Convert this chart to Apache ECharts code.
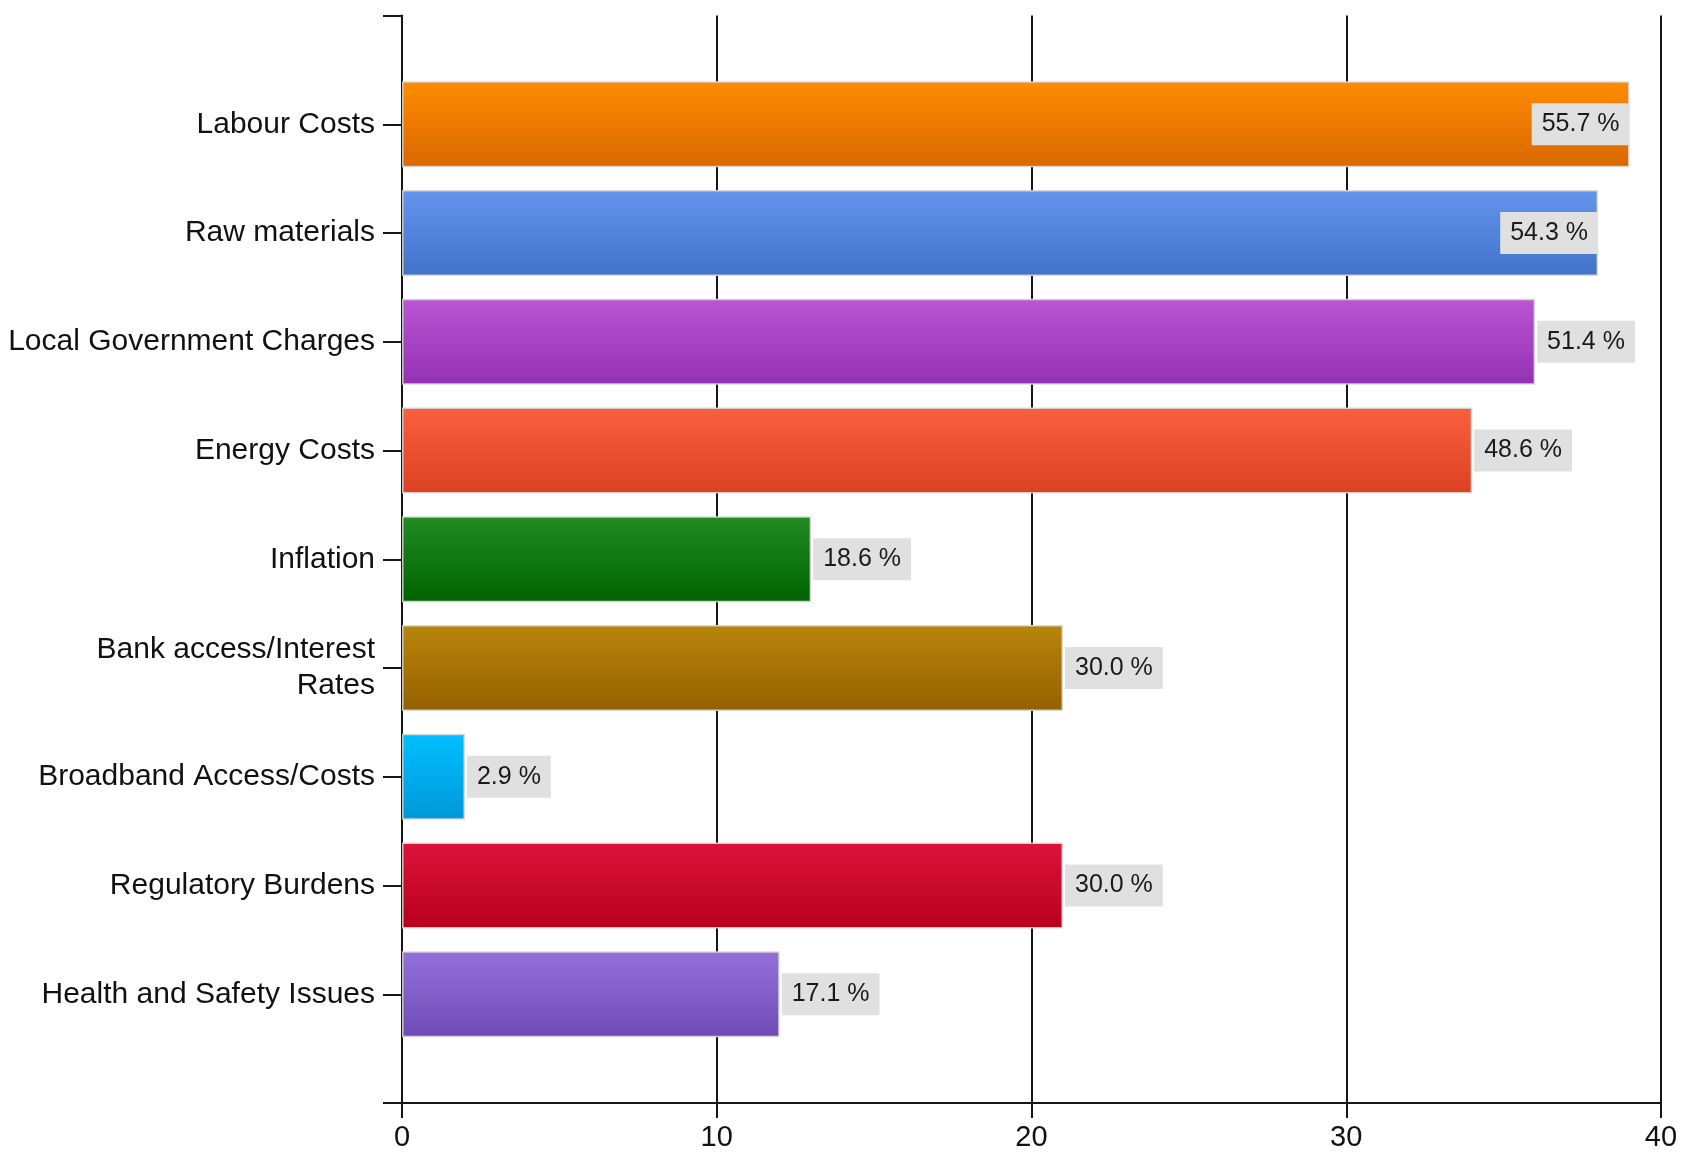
<!DOCTYPE html>
<html>
<head>
<meta charset="utf-8">
<style>
html,body{margin:0;padding:0;background:#fff;}
#chart{width:1681px;height:1152px;}
</style>
<script src="https://cdn.jsdelivr.net/npm/echarts@6/dist/echarts.min.js"></script>
</head>
<body>
<div id="chart"></div>
<script>
// Categories (top to bottom)
const categories = ['Labour Costs', 'Raw materials', 'Local Government Charges', 'Energy Costs', 'Inflation', 'Bank access/Interest\nRates', 'Broadband Access/Costs', 'Regulatory Burdens', 'Health and Safety Issues'];
// Bar lengths (counts on the 0-40 axis)
const counts = [39, 38, 36, 34, 13, 21, 2, 21, 12];
// Percentage labels shown at bar ends
const percentLabels = ['55.7 %', '54.3 %', '51.4 %', '48.6 %', '18.6 %', '30.0 %', '2.9 %', '30.0 %', '17.1 %'];
// Labels drawn inside the bar end (no room outside)
const labelInside = [true, true, false, false, false, false, false, false, false];
// Gradient colours (top, bottom)
const colorTop = ['#ff8c00', '#6495ed', '#ba55d3', '#f8603f', '#228b22', '#b8860b', '#00bfff', '#dc143c', '#9370db'];
const colorBottom = ['#d96800', '#4272c8', '#9432b4', '#dc4124', '#006400', '#946000', '#0098d8', '#b8001c', '#6f4cb5'];
const xTicks = [0, 10, 20, 30, 40];

const axisCats = [''].concat(categories, ['']);
const seriesData = [null];
counts.forEach(function (v, i) {
  seriesData.push({
    value: v,
    itemStyle: {
      color: new echarts.graphic.LinearGradient(0, 0, 0, 1, [
        { offset: 0, color: colorTop[i] },
        { offset: 1, color: colorBottom[i] }
      ])
    },
    label: {
      position: labelInside[i] ? 'insideRight' : 'right',
      distance: labelInside[i] ? 0 : 2,
      formatter: percentLabels[i]
    }
  });
});
seriesData.push(null);

const chart = echarts.init(document.getElementById('chart'), null, { renderer: 'canvas' });
chart.setOption({
  animation: false,
  backgroundColor: '#ffffff',
  grid: { left: 402, right: 20, top: 15.5, bottom: 49, containLabel: false },
  xAxis: {
    type: 'value',
    min: xTicks[0],
    max: xTicks[xTicks.length - 1],
    interval: 10,
    axisLine: { show: true, lineStyle: { color: '#161616', width: 2 } },
    axisTick: { show: true, length: 15, lineStyle: { color: '#161616', width: 2 } },
    axisLabel: { margin: 20, fontSize: 29, color: '#111', fontFamily: 'Liberation Sans, Arial, sans-serif' },
    splitLine: { show: true, lineStyle: { color: '#161616', width: 2 } }
  },
  yAxis: {
    type: 'category',
    data: axisCats,
    inverse: true,
    boundaryGap: false,
    axisLine: { show: true, lineStyle: { color: '#161616', width: 2 } },
    axisTick: { show: true, length: 19, interval: 0, lineStyle: { color: '#161616', width: 2 } },
    axisLabel: { margin: 27, interval: 0, fontSize: 30, lineHeight: 36, color: '#111', align: 'right', fontFamily: 'Liberation Sans, Arial, sans-serif' },
    splitLine: { show: false }
  },
  series: [{
    type: 'bar',
    data: seriesData,
    barWidth: '79%',
    itemStyle: { borderColor: 'rgba(215,215,215,0.9)', borderWidth: 1.5 },
    label: {
      show: true,
      fontSize: 25,
      lineHeight: 24,
      color: '#1a1a1a',
      backgroundColor: '#e0e0e0',
      padding: [9, 10, 9, 10],
      fontFamily: 'Liberation Sans, Arial, sans-serif'
    }
  }]
});
</script>
</body>
</html>
